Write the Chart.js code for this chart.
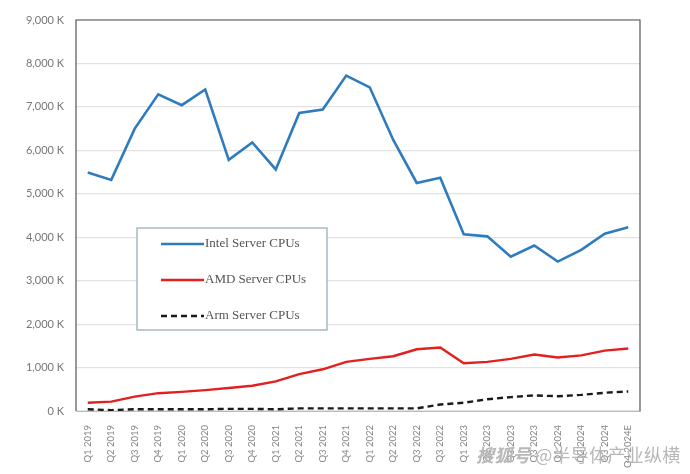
<!DOCTYPE html>
<html>
<head>
<meta charset="utf-8">
<script src="https://cdn.jsdelivr.net/npm/chart.js@4.4.1/dist/chart.umd.min.js"></script>
<style>
  html, body { margin: 0; padding: 0; background: #fff; }
  #wrap { position: relative; width: 690px; height: 474px; }
  #mark { position: absolute; left: 476px; top: 441px; font-family: "Noto Sans CJK SC", sans-serif;
          font-size: 18px; color: #b8b8b8; letter-spacing: 0.3px; white-space: nowrap; }
  #mark i { font-weight: bold; }
</style>
</head>
<body>
<div id="wrap">
  <canvas id="chart" width="690" height="474"></canvas>
  <div id="mark"><i>搜狐号</i> @半导体产业纵横</div>
</div>
<script>
const quarters = ['Q1 2019','Q2 2019','Q3 2019','Q4 2019','Q1 2020','Q2 2020','Q3 2020','Q4 2020',
  'Q1 2021','Q2 2021','Q3 2021','Q4 2021','Q1 2022','Q2 2022','Q3 2022','Q3 2022',
  'Q1 2023','Q2 2023','Q3 2023','Q3 2023','Q1 2024','Q2 2024','Q3 2024','Q4 2024E'];
const intel = [5490, 5320, 6500, 7290, 7040, 7400, 5780, 6180, 5560, 6860, 6940, 7720,
  7450, 6240, 5250, 5370, 4070, 4020, 3550, 3810, 3440, 3710, 4080, 4230];
const amd = [190, 215, 330, 410, 440, 480, 530, 580, 680, 850, 960, 1130,
  1200, 1260, 1420, 1460, 1100, 1130, 1200, 1300, 1230, 1280, 1390, 1440];
const arm = [40, 20, 40, 40, 40, 40, 50, 50, 40, 60, 60, 60,
  60, 60, 60, 150, 190, 270, 320, 360, 340, 370, 420, 450];
const yTicks = [0, 1000, 2000, 3000, 4000, 5000, 6000, 7000, 8000, 9000];

// legend box drawn inside the plot
const boxLegend = {
  id: 'boxLegend',
  afterDraw(chart) {
    const ctx = chart.ctx;
    const x = 137, y = 228, w = 190, h = 102;
    ctx.save();
    ctx.strokeStyle = '#8fa9b5';
    ctx.lineWidth = 1.2;
    ctx.fillStyle = '#fff';
    ctx.fillRect(x, y, w, h);
    ctx.strokeRect(x, y, w, h);
    ctx.font = '13px "Liberation Serif", serif';
    ctx.textBaseline = 'middle';
    chart.data.datasets.forEach((ds, i) => {
      const ly = y + 16 + i * 36;
      ctx.strokeStyle = ds.borderColor;
      ctx.lineWidth = 2.5;
      ctx.setLineDash(ds.borderDash || []);
      ctx.beginPath();
      ctx.moveTo(x + 24, ly);
      ctx.lineTo(x + 67, ly);
      ctx.stroke();
      ctx.setLineDash([]);
      ctx.fillStyle = '#555';
      ctx.fillText(ds.label, x + 68, ly);
    });
    ctx.restore();
  }
};

// dark frame round the plot area
const frame = {
  id: 'frame',
  beforeDatasetsDraw(chart) {
    const a = chart.chartArea, ctx = chart.ctx;
    ctx.save();
    ctx.strokeStyle = '#555';
    ctx.lineWidth = 1.2;
    ctx.beginPath();
    ctx.moveTo(a.left, a.bottom);
    ctx.lineTo(a.left, a.top);
    ctx.lineTo(a.right, a.top);
    ctx.lineTo(a.right, a.bottom);
    ctx.stroke();
    ctx.restore();
  }
};

new Chart(document.getElementById('chart'), {
  type: 'line',
  data: {
    labels: quarters,
    datasets: [
      { label: 'Intel Server CPUs', data: intel, borderColor: '#2e7cbd', borderWidth: 2.6 },
      { label: 'AMD Server CPUs', data: amd, borderColor: '#e3201f', borderWidth: 2.4 },
      { label: 'Arm Server CPUs', data: arm, borderColor: '#1a1a1a', borderWidth: 2.4, borderDash: [6, 4] }
    ]
  },
  options: {
    responsive: false,
    animation: false,
    layout: { padding: { top: 20, right: 50, left: 0, bottom: 0 } },
    elements: { point: { radius: 0 }, line: { tension: 0 } },
    plugins: { legend: { display: false }, tooltip: { enabled: false } },
    scales: {
      x: {
        offset: true,
        grid: { display: false },
        border: { color: '#bbb' },
        ticks: {
          autoSkip: false, maxRotation: 90, minRotation: 90,
          color: '#888', font: { family: 'Lato', size: 9.5 }, padding: 6
        },
        afterFit(s) { s.height = 63; }
      },
      y: {
        min: 0, max: 9000,
        afterBuildTicks(s) { s.ticks = yTicks.map(v => ({ value: v })); },
        grid: { color: '#e2e2e2', lineWidth: 1.2, drawTicks: false },
        border: { display: false },
        ticks: {
          color: '#777', font: { family: 'Lato', size: 11 }, padding: 12,
          callback: v => v.toLocaleString('en-US') + ' K'
        },
        afterFit(s) { s.width = 76; }
      }
    }
  },
  plugins: [frame, boxLegend]
});
</script>
</body>
</html>
